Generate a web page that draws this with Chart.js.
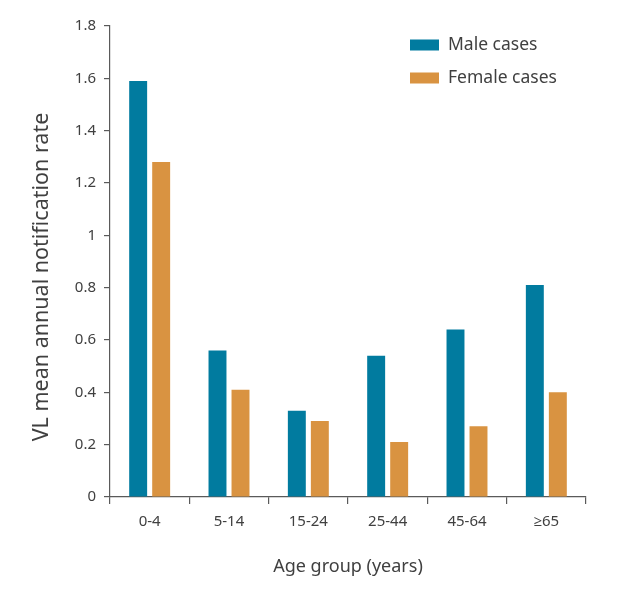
<!DOCTYPE html>
<html>
<head>
<meta charset="utf-8">
<script src="https://cdn.jsdelivr.net/npm/chart.js@4/dist/chart.umd.min.js"></script>
<style>
  html, body { margin: 0; padding: 0; background: #ffffff; }
  #wrap { width: 632px; height: 595px; position: relative; }
</style>
</head>
<body>
<div id="wrap"><canvas id="c" width="632" height="595"></canvas></div>
<script>
const categories = ["0-4", "5-14", "15-24", "25-44", "45-64", "\u226565"];
const maleCases = [1.59, 0.56, 0.33, 0.54, 0.64, 0.81];
const femaleCases = [1.28, 0.41, 0.29, 0.21, 0.27, 0.40];
const yTicks = [0, 0.2, 0.4, 0.6, 0.8, 1, 1.2, 1.4, 1.6, 1.8];
const yTitle = 'VL mean annual notification rate';

const FONT = "'Noto Sans', 'Open Sans', sans-serif";
const TEXT = "#404040";
const AXIS = "#5a5a5a";

const legendPlugin = {
  id: 'customLegend',
  afterDraw(chart) {
    const ctx = chart.ctx;
    ctx.save();
    ctx.font = "17.5px " + FONT;
    ctx.textBaseline = 'middle';
    ctx.textAlign = 'left';
    chart.data.datasets.forEach((ds, i) => {
      const y = 45 + i * 33;
      ctx.fillStyle = ds.backgroundColor;
      ctx.fillRect(410, y - 5.5, 29, 11);
      ctx.fillStyle = TEXT;
      ctx.fillText(ds.label, 448, y);
    });
    // y-axis title
    ctx.translate(42, 277);
    ctx.rotate(-Math.PI / 2);
    ctx.font = "21.5px " + FONT;
    ctx.textAlign = 'center';
    ctx.fillText(yTitle, 0, 0);
    ctx.restore();
  }
};

new Chart(document.getElementById('c'), {
  type: 'bar',
  data: {
    labels: categories,
    datasets: [
      { label: 'Male cases', data: maleCases, backgroundColor: '#017b9f' },
      { label: 'Female cases', data: femaleCases, backgroundColor: '#d99341' }
    ]
  },
  options: {
    responsive: false,
    animation: false,
    devicePixelRatio: 1,
    layout: { padding: { left: 0, right: 46, top: 26, bottom: 0 } },
    datasets: { bar: { categoryPercentage: 0.58, barPercentage: 0.78 } },
    plugins: { legend: { display: false }, tooltip: { enabled: false } },
    scales: {
      x: {
        offset: true,
        afterFit(scale) { scale.height = 98; },
        grid: { display: true, offset: true, drawOnChartArea: false, drawTicks: true, tickLength: 7, color: AXIS, lineWidth: 1.2 },
        border: { display: true, color: AXIS, width: 1.2 },
        ticks: { color: TEXT, font: { family: FONT, size: 15 }, padding: 9, maxRotation: 0 },
        title: { display: true, text: 'Age group (years)', color: TEXT, font: { family: FONT, size: 18 }, padding: { top: 0, bottom: 17 } }
      },
      y: {
        min: 0,
        max: 1.8,
        afterFit(scale) { scale.width = 110; },
        afterBuildTicks(scale) { scale.ticks = yTicks.map(v => ({ value: v })); },
        grid: { display: true, drawOnChartArea: false, drawTicks: true, tickLength: 6, color: AXIS, lineWidth: 1.2 },
        border: { display: true, color: AXIS, width: 1.2 },
        ticks: {
          color: TEXT, font: { family: FONT, size: 15 }, padding: 8,
          callback: v => String(+Number(v).toFixed(1))
        },
        title: { display: false }
      }
    }
  },
  plugins: [legendPlugin]
});
</script>
</body>
</html>
